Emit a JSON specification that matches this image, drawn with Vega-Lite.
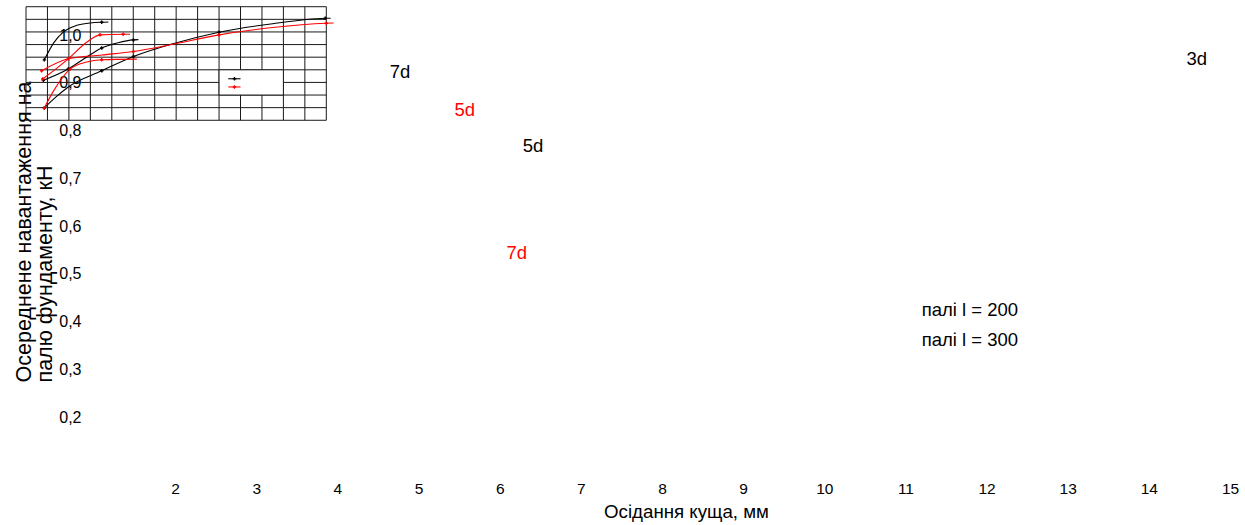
{
  "$schema": "https://vega.github.io/schema/vega-lite/v6.json",
  "width": 1136,
  "height": 430,
  "padding": {"left": 94, "top": 35, "right": 15, "bottom": 60},
  "autosize": {"type": "none"},
  "background": "white",
  "config": {"view": {"stroke": null}, "font": "Liberation Sans"},
  "datasets": {
    "curves": [
      {"c": "b7", "pile": "200", "x": 1.855, "y": 0.579, "m": true},
      {"c": "b7", "pile": "200", "x": 2.3, "y": 0.715, "m": false},
      {"c": "b7", "pile": "200", "x": 2.75, "y": 0.8, "m": false},
      {"c": "b7", "pile": "200", "x": 3.37, "y": 0.853, "m": false},
      {"c": "b7", "pile": "200", "x": 4.0, "y": 0.871, "m": false},
      {"c": "b7", "pile": "200", "x": 4.53, "y": 0.877, "m": true},
      {"c": "b7", "pile": "200", "x": 4.84, "y": 0.879, "m": false},
      {"c": "b5", "pile": "200", "x": 1.81, "y": 0.417, "m": true},
      {"c": "b5", "pile": "200", "x": 2.97, "y": 0.506, "m": true},
      {"c": "b5", "pile": "200", "x": 3.8, "y": 0.598, "m": false},
      {"c": "b5", "pile": "200", "x": 4.53, "y": 0.673, "m": true},
      {"c": "b5", "pile": "200", "x": 5.3, "y": 0.715, "m": false},
      {"c": "b5", "pile": "200", "x": 6.01, "y": 0.737, "m": true},
      {"c": "b5", "pile": "200", "x": 6.24, "y": 0.739, "m": false},
      {"c": "b3", "pile": "200", "x": 1.855, "y": 0.198, "m": true},
      {"c": "b3", "pile": "200", "x": 2.4, "y": 0.285, "m": false},
      {"c": "b3", "pile": "200", "x": 2.97, "y": 0.364, "m": false},
      {"c": "b3", "pile": "200", "x": 4.53, "y": 0.492, "m": true},
      {"c": "b3", "pile": "200", "x": 6.01, "y": 0.605, "m": true},
      {"c": "b3", "pile": "200", "x": 7.72, "y": 0.7, "m": false},
      {"c": "b3", "pile": "200", "x": 10.0, "y": 0.798, "m": true},
      {"c": "b3", "pile": "200", "x": 12.5, "y": 0.865, "m": false},
      {"c": "b3", "pile": "200", "x": 14.95, "y": 0.908, "m": true},
      {"c": "b3", "pile": "200", "x": 15.2, "y": 0.909, "m": false},
      {"c": "r3", "pile": "300", "x": 1.73, "y": 0.492, "m": true},
      {"c": "r3", "pile": "300", "x": 2.97, "y": 0.587, "m": true},
      {"c": "r3", "pile": "300", "x": 4.53, "y": 0.617, "m": false},
      {"c": "r3", "pile": "300", "x": 6.01, "y": 0.645, "m": true},
      {"c": "r3", "pile": "300", "x": 7.72, "y": 0.698, "m": false},
      {"c": "r3", "pile": "300", "x": 10.0, "y": 0.777, "m": true},
      {"c": "r3", "pile": "300", "x": 12.5, "y": 0.835, "m": false},
      {"c": "r3", "pile": "300", "x": 15.0, "y": 0.869, "m": true},
      {"c": "r3", "pile": "300", "x": 15.34, "y": 0.871, "m": false},
      {"c": "r5", "pile": "300", "x": 1.78, "y": 0.427, "m": true},
      {"c": "r5", "pile": "300", "x": 2.97, "y": 0.587, "m": false},
      {"c": "r5", "pile": "300", "x": 3.83, "y": 0.718, "m": false},
      {"c": "r5", "pile": "300", "x": 4.45, "y": 0.777, "m": true},
      {"c": "r5", "pile": "300", "x": 5.53, "y": 0.782, "m": true},
      {"c": "r5", "pile": "300", "x": 5.85, "y": 0.782, "m": false},
      {"c": "r7", "pile": "300", "x": 1.855, "y": 0.198, "m": true},
      {"c": "r7", "pile": "300", "x": 2.27, "y": 0.329, "m": false},
      {"c": "r7", "pile": "300", "x": 2.74, "y": 0.447, "m": false},
      {"c": "r7", "pile": "300", "x": 3.05, "y": 0.505, "m": true},
      {"c": "r7", "pile": "300", "x": 3.83, "y": 0.562, "m": false},
      {"c": "r7", "pile": "300", "x": 4.53, "y": 0.58, "m": true},
      {"c": "r7", "pile": "300", "x": 6.17, "y": 0.585, "m": false}
    ],
    "vgrid": [
      {"gx": 1}, {"gx": 2}, {"gx": 3}, {"gx": 4}, {"gx": 5}, {"gx": 6}, {"gx": 7}, {"gx": 8},
      {"gx": 9}, {"gx": 10}, {"gx": 11}, {"gx": 12}, {"gx": 13}, {"gx": 14}, {"gx": 15}
    ],
    "hgrid": [
      {"gy": 0.1}, {"gy": 0.2}, {"gy": 0.3}, {"gy": 0.4}, {"gy": 0.5},
      {"gy": 0.6}, {"gy": 0.7}, {"gy": 0.8}, {"gy": 0.9}, {"gy": 1.0}
    ],
    "legendsym": [
      {"pile": "200", "ly": 0.429},
      {"pile": "300", "ly": 0.364}
    ],
    "labels": [
      {"t": "7d", "pile": "200", "x": 4.77, "y": 0.9226},
      {"t": "5d", "pile": "300", "x": 5.57, "y": 0.843},
      {"t": "5d", "pile": "200", "x": 6.41, "y": 0.768},
      {"t": "7d", "pile": "300", "x": 6.21, "y": 0.544},
      {"t": "3d", "pile": "200", "x": 14.59, "y": 0.95}
    ],
    "legendtext": [
      {"t": "палі l = 200", "x": 11.2, "y": 0.4245},
      {"t": "палі l = 300", "x": 11.2, "y": 0.3617}
    ]
  },
  "layer": [
    {
      "layer": [
        {
          "data": {"name": "labels"},
          "mark": {"type": "text", "fontSize": 18.5, "align": "center", "baseline": "middle"},
          "encoding": {
            "x": {
              "field": "x", "type": "quantitative",
              "scale": {"domain": [1, 15], "nice": false, "zero": false},
              "axis": {
                "values": [2, 3, 4, 5, 6, 7, 8, 9, 10, 11, 12, 13, 14, 15],
                "format": "d",
                "grid": false, "domain": false, "ticks": false,
                "labelFontSize": 15.5, "labelColor": "black", "labelBaseline": "alphabetic",
                "labelPadding": 28, "labelFlush": false,
                "title": "Осідання куща, мм", "titleFontSize": 18.7, "titleFontWeight": "normal",
                "titleColor": "black", "titleX": 592, "titleY": 52, "titleBaseline": "alphabetic",
                "titleAlign": "center"
              }
            },
            "y": {
              "field": "y", "type": "quantitative",
              "scale": {"domain": [0.1, 1.0], "nice": false, "zero": false},
              "axis": {
                "values": [0.2, 0.3, 0.4, 0.5, 0.6, 0.7, 0.8, 0.9, 1.0],
                "labelExpr": "replace(format(datum.value, '.1f'), '.', ',')",
                "grid": false, "domain": false, "ticks": false,
                "labelFontSize": 16, "labelColor": "black", "labelPadding": 13,
                "title": ["Осереднене навантаження на", "палю фундаменту, кН"],
                "titleFontSize": 21.5, "titleFontWeight": "normal", "titleColor": "black",
                "titleAngle": 270, "titleAlign": "left", "titleBaseline": "top",
                "titleX": -81, "titleY": 347, "titleLineHeight": 21
              }
            },
            "text": {"field": "t"},
            "color": {
              "field": "pile", "type": "nominal",
              "scale": {"domain": ["200", "300"], "range": ["#000000", "#ff0000"]},
              "legend": null
            }
          }
        },
        {
          "data": {"name": "legendtext"},
          "mark": {"type": "text", "fontSize": 18.5, "align": "left", "baseline": "middle", "color": "black"},
          "encoding": {
            "x": {"field": "x", "type": "quantitative"},
            "y": {"field": "y", "type": "quantitative"},
            "text": {"field": "t"}
          }
        }
      ]
    },
    {
      "layer": [
        {
          "data": {"name": "vgrid"},
          "mark": {"type": "rule", "color": "#1a1a1a", "strokeWidth": 1},
          "encoding": {
            "x": {"field": "gx", "type": "quantitative",
                  "scale": {"domain": [4.170, 57.13], "nice": false, "zero": false}, "axis": null},
            "y": {"datum": 0.1, "type": "quantitative",
                  "scale": {"domain": [-2.632, 0.7758], "nice": false, "zero": false}, "axis": null},
            "y2": {"datum": 1.0}
          }
        },
        {
          "data": {"name": "hgrid"},
          "mark": {"type": "rule", "color": "#1a1a1a", "strokeWidth": 1},
          "encoding": {
            "y": {"field": "gy", "type": "quantitative", "axis": null},
            "x": {"datum": 1, "type": "quantitative", "axis": null},
            "x2": {"datum": 15}
          }
        },
        {
          "data": {"values": [{}]},
          "mark": {"type": "rect", "fill": "white", "stroke": "#1a1a1a", "strokeWidth": 1},
          "encoding": {
            "x": {"datum": 10, "type": "quantitative", "axis": null},
            "x2": {"datum": 13},
            "y": {"datum": 0.3, "type": "quantitative", "axis": null},
            "y2": {"datum": 0.5}
          }
        },
        {
          "data": {"name": "curves"},
          "mark": {"type": "line", "interpolate": "monotone", "strokeWidth": 1.1},
          "encoding": {
            "x": {"field": "x", "type": "quantitative", "axis": null},
            "y": {"field": "y", "type": "quantitative", "axis": null},
            "detail": {"field": "c"},
            "color": {
              "field": "pile", "type": "nominal",
              "scale": {"domain": ["200", "300"], "range": ["#000000", "#ff0000"]},
              "legend": null
            }
          }
        },
        {
          "data": {"name": "curves"},
          "transform": [{"filter": "datum.m"}],
          "mark": {"type": "point", "shape": "cross", "size": 12, "filled": true, "opacity": 1},
          "encoding": {
            "x": {"field": "x", "type": "quantitative", "axis": null},
            "y": {"field": "y", "type": "quantitative", "axis": null},
            "color": {"field": "pile", "type": "nominal", "legend": null}
          }
        },
        {
          "data": {"name": "legendsym"},
          "mark": {"type": "rule", "strokeWidth": 1.1},
          "encoding": {
            "x": {"datum": 10.43, "type": "quantitative", "axis": null},
            "x2": {"datum": 11.0},
            "y": {"field": "ly", "type": "quantitative", "axis": null},
            "color": {"field": "pile", "type": "nominal", "legend": null}
          }
        },
        {
          "data": {"name": "legendsym"},
          "mark": {"type": "point", "shape": "cross", "size": 12, "filled": true, "opacity": 1},
          "encoding": {
            "x": {"datum": 10.72, "type": "quantitative", "axis": null},
            "y": {"field": "ly", "type": "quantitative", "axis": null},
            "color": {"field": "pile", "type": "nominal", "legend": null}
          }
        }
      ]
    }
  ],
  "resolve": {"scale": {"x": "independent", "y": "independent", "color": "independent"}}
}
